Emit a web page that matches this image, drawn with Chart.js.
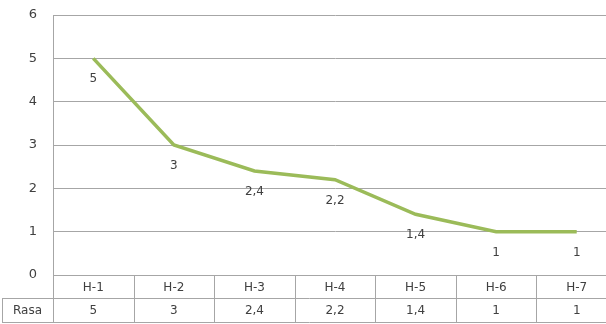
<!DOCTYPE html>
<html>
<head>
<meta charset="utf-8">
<script src="https://cdn.jsdelivr.net/npm/chart.js@4/dist/chart.umd.min.js"></script>
<style>
  html, body { margin: 0; padding: 0; background: #fff; overflow: hidden; }
  #wrap { width: 620px; height: 324px; }
</style>
</head>
<body>
<div id="wrap"><canvas id="c" width="620" height="324"></canvas></div>
<script>
// Days and the "Rasa" score recorded for each day
const categories = ['H-1', 'H-2', 'H-3', 'H-4', 'H-5', 'H-6', 'H-7'];
const seriesName = 'Rasa';
const rasaValues = [5, 3, 2.4, 2.2, 1.4, 1, 1];
const yTicks = [0, 1, 2, 3, 4, 5, 6];

const lineColor = '#9bbb59';
const gridColor = '#a6a6a6';
const textColor = '#404040';
const tableFont = '12px "DejaVu Sans", Verdana, sans-serif';

const fmt = v => String(v).replace('.', ',');

// Value labels under each point, plus the data table under the plot
const tablePlugin = {
  id: 'dataTable',
  afterDatasetsDraw(chart) {
    const ctx = chart.ctx;
    const meta = chart.getDatasetMeta(0);

    ctx.save();
    ctx.fillStyle = textColor;
    ctx.font = tableFont;
    ctx.textAlign = 'center';
    ctx.textBaseline = 'middle';
    meta.data.forEach((pt, i) => {
      ctx.fillText(fmt(rasaValues[i]), pt.x, pt.y + 21);
    });
    ctx.restore();
  },
  afterDraw(chart) {
    const ctx = chart.ctx;
    const area = chart.chartArea;
    const xs = chart.scales.x;
    const rowH = 23;
    const top = area.bottom;
    const mid = top + rowH;
    const bottom = mid + rowH + 1;
    const step = xs.getPixelForValue(1) - xs.getPixelForValue(0);
    const leftEdge = 2;

    ctx.save();
    ctx.strokeStyle = gridColor;
    ctx.lineWidth = 1;
    ctx.beginPath();
    // horizontal rules
    ctx.moveTo(area.left, top + 0.5); ctx.lineTo(area.right, top + 0.5);
    ctx.moveTo(leftEdge, mid + 0.5); ctx.lineTo(area.right, mid + 0.5);
    ctx.moveTo(leftEdge, bottom + 0.5); ctx.lineTo(area.right, bottom + 0.5);
    // left edge of the series name cell
    ctx.moveTo(leftEdge + 0.5, mid); ctx.lineTo(leftEdge + 0.5, bottom);
    // column separators
    for (let i = 0; i <= categories.length; i++) {
      const x = Math.round(xs.getPixelForValue(i) - step / 2) + 0.5;
      ctx.moveTo(x, top); ctx.lineTo(x, bottom);
    }
    ctx.stroke();

    ctx.fillStyle = textColor;
    ctx.font = tableFont;
    ctx.textAlign = 'center';
    ctx.textBaseline = 'middle';
    categories.forEach((c, i) => {
      const x = xs.getPixelForValue(i);
      ctx.fillText(c, x, top + rowH / 2 + 1);
      ctx.fillText(fmt(rasaValues[i]), x, mid + rowH / 2 + 1);
    });
    ctx.fillText(seriesName, (leftEdge + area.left) / 2, mid + rowH / 2 + 1);
    ctx.restore();
  }
};

new Chart(document.getElementById('c'), {
  type: 'line',
  data: {
    labels: categories,
    datasets: [{
      label: seriesName,
      data: rasaValues,
      borderColor: lineColor,
      borderWidth: 3.5,
      pointRadius: 0,
      tension: 0,
      fill: false
    }]
  },
  options: {
    responsive: false,
    animation: false,
    events: [],
    layout: { padding: { top: 15, right: 3, bottom: 49, left: 0 } },
    plugins: { legend: { display: false }, tooltip: { enabled: false } },
    scales: {
      x: {
        type: 'category',
        offset: true,
        display: false
      },
      y: {
        min: 0,
        max: 6,
        afterBuildTicks(scale) { scale.ticks = yTicks.map(v => ({ value: v })); },
        afterFit(scale) { scale.width = 53; },
        ticks: {
          color: textColor,
          padding: 0,
          font: { family: '"DejaVu Sans", Verdana, sans-serif', size: 13 }
        },
        grid: { color: gridColor, drawTicks: true, tickLength: 16, tickColor: 'rgba(0,0,0,0)' },
        border: { display: true, color: gridColor }
      }
    }
  },
  plugins: [tablePlugin]
});
</script>
</body>
</html>
